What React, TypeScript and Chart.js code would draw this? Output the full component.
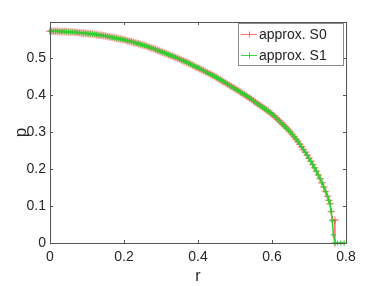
import { useEffect, useRef } from "react";
import { Chart, registerables } from "chart.js";

Chart.register(...registerables);

// Dense part of both curves, r = 0 ... 0.495
const rHead = [
  0, 0.005, 0.01, 0.015, 0.02, 0.025, 0.03, 0.035, 0.04, 0.045,
  0.05, 0.055, 0.06, 0.065, 0.07, 0.075, 0.08, 0.085, 0.09, 0.095,
  0.1, 0.105, 0.11, 0.115, 0.12, 0.125, 0.13, 0.135, 0.14, 0.145,
  0.15, 0.155, 0.16, 0.165, 0.17, 0.175, 0.18, 0.185, 0.19, 0.195,
  0.2, 0.205, 0.21, 0.215, 0.22, 0.225, 0.23, 0.235, 0.24, 0.245,
  0.25, 0.255, 0.26, 0.265, 0.27, 0.275, 0.28, 0.285, 0.29, 0.295,
  0.3, 0.305, 0.31, 0.315, 0.32, 0.325, 0.33, 0.335, 0.34, 0.345,
  0.35, 0.355, 0.36, 0.365, 0.37, 0.375, 0.38, 0.385, 0.39, 0.395,
  0.4, 0.405, 0.41, 0.415, 0.42, 0.425, 0.43, 0.435, 0.44, 0.445,
  0.45, 0.455, 0.46, 0.465, 0.47, 0.475, 0.48, 0.485, 0.49, 0.495,
];
const pHead = [
  0.572, 0.572, 0.572, 0.572, 0.572, 0.5715, 0.571, 0.571, 0.571, 0.5705,
  0.57, 0.57, 0.57, 0.5695, 0.569, 0.5685, 0.568, 0.5675, 0.567, 0.5665,
  0.566, 0.5655, 0.565, 0.5645, 0.564, 0.563, 0.562, 0.5615, 0.561, 0.56,
  0.559, 0.558, 0.557, 0.556, 0.555, 0.554, 0.553, 0.552, 0.551, 0.55,
  0.549, 0.5475, 0.546, 0.545, 0.544, 0.5425, 0.541, 0.5395, 0.538, 0.5365,
  0.535, 0.5335, 0.532, 0.53, 0.528, 0.5265, 0.525, 0.523, 0.521, 0.519,
  0.517, 0.515, 0.513, 0.511, 0.509, 0.507, 0.505, 0.503, 0.501, 0.499,
  0.497, 0.4945, 0.492, 0.49, 0.488, 0.4855, 0.483, 0.4805, 0.478, 0.4755,
  0.473, 0.4705, 0.468, 0.4655, 0.463, 0.4605, 0.458, 0.4555, 0.453, 0.45,
  0.447, 0.444, 0.441, 0.438, 0.435, 0.432, 0.429, 0.426, 0.423, 0.42,
];
// Middle part of both curves, r = 0.5 ... 0.76
const rMid = [
  0.5, 0.505, 0.51, 0.515, 0.52, 0.525, 0.53, 0.535, 0.54, 0.545,
  0.55, 0.555, 0.56, 0.565, 0.57, 0.575, 0.58, 0.585, 0.59, 0.595,
  0.6, 0.605, 0.61, 0.615, 0.62, 0.625, 0.63, 0.635, 0.64, 0.645,
  0.65, 0.655, 0.66, 0.665, 0.67, 0.675, 0.68, 0.685, 0.69, 0.695,
  0.7, 0.705, 0.71, 0.715, 0.72, 0.725, 0.73, 0.735, 0.74, 0.745,
  0.75, 0.754, 0.757, 0.76,
];
const pMid = [
  0.417, 0.414, 0.411, 0.4075, 0.404, 0.401, 0.398, 0.3945, 0.391, 0.3875,
  0.384, 0.3805, 0.377, 0.3735, 0.37, 0.3665, 0.363, 0.3595, 0.356, 0.352,
  0.348, 0.3435, 0.339, 0.3345, 0.33, 0.325, 0.32, 0.315, 0.31, 0.3045,
  0.299, 0.293, 0.287, 0.2805, 0.274, 0.267, 0.26, 0.2525, 0.245, 0.237,
  0.229, 0.2205, 0.212, 0.203, 0.194, 0.184, 0.174, 0.163, 0.151, 0.139,
  0.126, 0.115, 0.106, 0.085,
];
// Tails
const rTailS0 = [0.764, 0.77, 0.77];
const pTailS0 = [0.062, 0.062, 0];
const rTailS1 = [0.763, 0.766, 0.77, 0.777, 0.786, 0.795];
const pTailS1 = [0.06, 0.022, 0, 0, 0, 0];

const seriesLabels = ["approx. S0", "approx. S1"];
const seriesColors = ["rgba(255,0,0,0.38)", "rgb(50,205,50)"];
const legendColors = ["rgb(255,110,110)", "rgb(60,210,60)"];
const xTicks = [0, 0.2, 0.4, 0.6, 0.8];
const yTicks = [0, 0.1, 0.2, 0.3, 0.4, 0.5];
const xTitle = "r";
const yTitle = "p";

const FONT = "'Liberation Sans', Arial, Helvetica, sans-serif";
const TEXT = "#262626";
const AXIS = "#555555";

const toPts = (rs: number[], ps: number[]) => rs.map((r, i) => ({ x: r, y: ps[i] }));

const fmt = (v: number) => (v === 0 ? "0" : v.toFixed(1));

const boxPlugin = {
  id: "matlabBox",
  afterDatasetsDraw(chart: any) {
    const { ctx, chartArea } = chart;
    const { left, right, top, bottom } = chartArea;
    const xs = chart.scales.x;
    const ys = chart.scales.y;
    ctx.save();
    ctx.strokeStyle = AXIS;
    ctx.lineWidth = 1;
    ctx.beginPath();
    ctx.rect(Math.round(left) + 0.5, Math.round(top) + 0.5, Math.round(right - left), Math.round(bottom - top));
    ctx.stroke();
    const tl = 3;
    ctx.beginPath();
    xTicks.forEach((v) => {
      const px = Math.round(xs.getPixelForValue(v)) + 0.5;
      ctx.moveTo(px, bottom);
      ctx.lineTo(px, bottom - tl);
      ctx.moveTo(px, top);
      ctx.lineTo(px, top + tl);
    });
    yTicks.forEach((v) => {
      const py = Math.round(ys.getPixelForValue(v)) + 0.5;
      ctx.moveTo(left, py);
      ctx.lineTo(left + tl, py);
      ctx.moveTo(right, py);
      ctx.lineTo(right - tl, py);
    });
    ctx.stroke();

    // legend
    const bx = 238.5, by = 23.5, bw = 105, bh = 42;
    ctx.fillStyle = "#ffffff";
    ctx.fillRect(bx, by, bw, bh);
    ctx.strokeStyle = "#8a8a8a";
    ctx.strokeRect(bx, by, bw, bh);
    const rows = [34, 55];
    seriesLabels.forEach((label, i) => {
      const yy = rows[i] + 0.5;
      ctx.strokeStyle = legendColors[i];
      ctx.lineWidth = 1;
      ctx.beginPath();
      ctx.moveTo(241, yy);
      ctx.lineTo(257, yy);
      ctx.moveTo(249.5, yy - 3);
      ctx.lineTo(249.5, yy + 3);
      ctx.stroke();
      ctx.fillStyle = TEXT;
      ctx.font = `14px ${FONT}`;
      ctx.textBaseline = "middle";
      ctx.textAlign = "left";
      ctx.fillText(label, 259, rows[i] + 1);
    });
    ctx.restore();
  },
};

export default function App() {
  const ref = useRef<HTMLCanvasElement | null>(null);
  useEffect(() => {
    if (!ref.current) return;
    const rBase = rHead.concat(rMid);
    const pBase = pHead.concat(pMid);
    const chart = new Chart(ref.current, {
      type: "line",
      data: {
        datasets: [
          {
            label: seriesLabels[1],
            data: toPts(rBase.concat(rTailS1), pBase.concat(pTailS1)),
            borderColor: seriesColors[1],
            backgroundColor: seriesColors[1],
            pointBorderColor: seriesColors[1],
            pointStyle: "cross",
            pointRadius: 2.5,
            pointBorderWidth: 1.2,
            borderWidth: 1.5,
            tension: 0,
            clip: 5,
          },
          {
            label: seriesLabels[0],
            data: toPts(rBase.concat(rTailS0), pBase.concat(pTailS0)),
            borderColor: seriesColors[0],
            backgroundColor: seriesColors[0],
            pointBorderColor: seriesColors[0],
            pointStyle: "cross",
            pointRadius: 3.8,
            pointBorderWidth: 1.5,
            borderWidth: 1,
            tension: 0,
            clip: 5,
          },
        ],
      },
      options: {
        responsive: false,
        animation: false,
        devicePixelRatio: 1,
        layout: { padding: { top: 22, right: 36, left: 0, bottom: 0 } },
        plugins: { legend: { display: false }, tooltip: { enabled: false } },
        scales: {
          x: {
            type: "linear",
            min: 0,
            max: 0.8,
            afterBuildTicks: (s: any) => {
              s.ticks = xTicks.map((v) => ({ value: v }));
            },
            afterFit: (s: any) => {
              s.height = 43;
            },
            grid: { display: false, drawTicks: false },
            border: { display: false },
            ticks: {
              color: TEXT,
              font: { family: FONT, size: 14 },
              padding: 6,
              maxRotation: 0,
              callback: (v: any) => fmt(Number(v)),
            },
            title: {
              display: true,
              text: xTitle,
              color: TEXT,
              font: { family: FONT, size: 16 },
              padding: { top: 0, bottom: 0 },
            },
          },
          y: {
            type: "linear",
            min: 0,
            max: 0.597,
            afterBuildTicks: (s: any) => {
              s.ticks = yTicks.map((v) => ({ value: v }));
            },
            afterFit: (s: any) => {
              s.width = 50;
            },
            grid: { display: false, drawTicks: false },
            border: { display: false },
            ticks: {
              color: TEXT,
              font: { family: FONT, size: 14 },
              padding: 4,
              callback: (v: any) => fmt(Number(v)),
            },
            title: {
              display: true,
              text: yTitle,
              color: TEXT,
              font: { family: FONT, size: 17 },
              padding: { top: 11, bottom: 0 },
            },
          },
        },
      },
      plugins: [boxPlugin],
    });
    return () => chart.destroy();
  }, []);
  return (
    <div style={{ position: "absolute", left: 0, top: 0, width: 382, height: 286, background: "#fff" }}>
      <canvas ref={ref} width={382} height={286} style={{ width: 382, height: 286 }} />
    </div>
  );
}
